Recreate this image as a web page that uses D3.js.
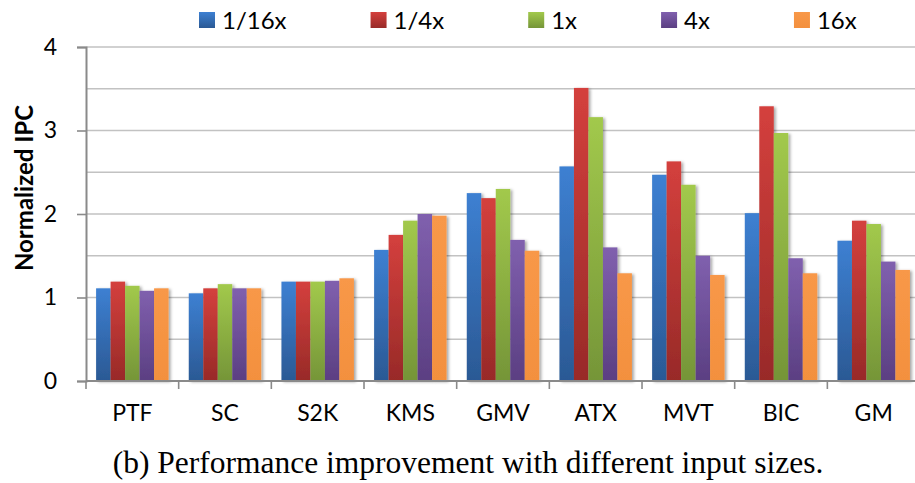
<!DOCTYPE html>
<html>
<head>
<meta charset="utf-8">
<script src="https://cdn.jsdelivr.net/npm/d3@7"></script>
<style>
  html, body { margin: 0; padding: 0; background: #fff; }
  svg { display: block; }
</style>
</head>
<body>
<svg id="chart" width="915" height="483"></svg>
<script>
// Benchmarks along the x axis
const categories = ["PTF", "SC", "S2K", "KMS", "GMV", "ATX", "MVT", "BIC", "GM"];

// Input-size series
const seriesNames = ["1/16x", "1/4x", "1x", "4x", "16x"];

// Normalized IPC per benchmark, one array per input size
const ipc_1_16x = [1.11, 1.05, 1.19, 1.57, 2.25, 2.57, 2.47, 2.01, 1.68];
const ipc_1_4x  = [1.19, 1.11, 1.19, 1.75, 2.19, 3.51, 2.63, 3.29, 1.92];
const ipc_1x    = [1.14, 1.16, 1.19, 1.92, 2.30, 3.16, 2.35, 2.97, 1.88];
const ipc_4x    = [1.08, 1.11, 1.20, 2.00, 1.69, 1.60, 1.50, 1.47, 1.43];
const ipc_16x   = [1.11, 1.11, 1.23, 1.98, 1.56, 1.29, 1.27, 1.29, 1.33];

// Y axis ticks and gridlines
const yTicks = [0, 1, 2, 3, 4];
const yGrid = [0.5, 1, 1.5, 2, 2.5, 3, 3.5, 4];

const seriesValues = [ipc_1_16x, ipc_1_4x, ipc_1x, ipc_4x, ipc_16x];

// Vertical gradient stops (top, bottom) for each series
const seriesTop    = ["#3d80d2", "#d4403d", "#a2c94c", "#8060ae", "#f89848"];
const seriesBottom = ["#2b5994", "#982a28", "#759538", "#5b3f82", "#f3903e"];

const svg = d3.select("#chart");
const W = 915, H = 483;
const sansFont = "Lato, 'Open Sans', sans-serif";

const plotLeft = 86, plotTop = 47, plotBottom = 381;
const step = 92.67;
const plotRight = plotLeft + step * categories.length;

const x0 = d3.scaleBand()
  .domain(categories)
  .range([plotLeft, plotRight])
  .paddingInner(0.218)
  .paddingOuter(0.109);

const x1 = d3.scaleBand()
  .domain(seriesNames)
  .range([0, x0.bandwidth()])
  .padding(0);

const y = d3.scaleLinear().domain([0, 4]).range([plotBottom, plotTop]);

const defs = svg.append("defs");
seriesNames.forEach((s, i) => {
  const g = defs.append("linearGradient")
    .attr("id", "grad" + i)
    .attr("x1", 0).attr("y1", 0).attr("x2", 0).attr("y2", 1);
  g.append("stop").attr("offset", "0%").attr("stop-color", seriesTop[i]);
  g.append("stop").attr("offset", "100%").attr("stop-color", seriesBottom[i]);
});
const shadow = defs.append("filter").attr("id", "shadow")
  .attr("x", "-20%").attr("y", "-5%").attr("width", "160%").attr("height", "115%");
shadow.append("feDropShadow")
  .attr("dx", 2).attr("dy", 1).attr("stdDeviation", 1.6)
  .attr("flood-color", "#000").attr("flood-opacity", 0.35);

// Gridlines
svg.append("g").selectAll("line")
  .data(yGrid)
  .join("line")
  .attr("x1", plotLeft).attr("x2", W)
  .attr("y1", d => y(d)).attr("y2", d => y(d))
  .attr("stroke", "#c2c2c2")
  .attr("stroke-width", 1.6);

// Bars
const groups = svg.append("g").selectAll("g")
  .data(categories)
  .join("g")
  .attr("transform", c => `translate(${x0(c)},0)`);

groups.selectAll("rect")
  .data((c, ci) => seriesNames.map((s, si) => ({ s, si, v: seriesValues[si][ci] })))
  .join("rect")
  .attr("x", d => x1(d.s))
  .attr("y", d => y(d.v))
  .attr("width", x1.bandwidth())
  .attr("height", d => y(0) - y(d.v))
  .attr("fill", d => `url(#grad${d.si})`)
  .attr("filter", "url(#shadow)");

// Y axis
const yAxis = d3.axisLeft(y).tickValues(yTicks).tickSize(9).tickPadding(20).tickFormat(d3.format("d"));
const ya = svg.append("g").attr("transform", `translate(${plotLeft},0)`).call(yAxis);
ya.select(".domain").attr("stroke", "#8a8a8a").attr("stroke-width", 2);
ya.selectAll(".tick line").attr("stroke", "#8a8a8a").attr("stroke-width", 1.6);
ya.selectAll(".tick text")
  .attr("font-family", sansFont)
  .attr("font-size", 23).attr("fill", "#000");

// X axis with ticks on category boundaries
const xa = svg.append("g").attr("transform", `translate(0,${plotBottom})`);
xa.append("line")
  .attr("x1", plotLeft).attr("x2", W)
  .attr("stroke", "#8a8a8a").attr("stroke-width", 2);
xa.selectAll("line.tk")
  .data(categories)
  .join("line")
  .attr("class", "tk")
  .attr("x1", c => x0(c) - x0.step() * x0.paddingInner() / 2)
  .attr("x2", c => x0(c) - x0.step() * x0.paddingInner() / 2)
  .attr("y1", 0).attr("y2", 8)
  .attr("stroke", "#8a8a8a").attr("stroke-width", 1.6);
xa.selectAll("text")
  .data(categories)
  .join("text")
  .attr("x", c => x0(c) + x0.bandwidth() / 2)
  .attr("y", 40)
  .attr("text-anchor", "middle")
  .attr("font-family", sansFont)
  .attr("font-size", 23)
  .attr("fill", "#000")
  .text(c => c);

// Y axis title
svg.append("text")
  .attr("transform", `translate(33,188) rotate(-90)`)
  .attr("text-anchor", "middle")
  .attr("font-family", sansFont)
  .attr("font-weight", "bold")
  .attr("font-size", 24)
  .attr("fill", "#000")
  .text("Normalized IPC");

// Legend
const legend = svg.append("g");
let lx = 199;
seriesNames.forEach((s, i) => {
  legend.append("rect")
    .attr("x", lx).attr("y", 12).attr("width", 16).attr("height", 16)
    .attr("fill", `url(#grad${i})`);
  const t = legend.append("text")
    .attr("x", lx + 23).attr("y", 28.5)
    .attr("font-family", sansFont)
    .attr("font-size", 24).attr("fill", "#000")
    .text(s);
  lx += 23 + t.node().getComputedTextLength() + 84;
});

// Caption
svg.append("text")
  .attr("x", 468).attr("y", 473)
  .attr("text-anchor", "middle")
  .attr("font-family", "'Liberation Serif', 'Times New Roman', serif")
  .attr("font-size", 31.5)
  .attr("fill", "#000")
  .text("(b) Performance improvement with different input sizes.");
</script>
</body>
</html>
